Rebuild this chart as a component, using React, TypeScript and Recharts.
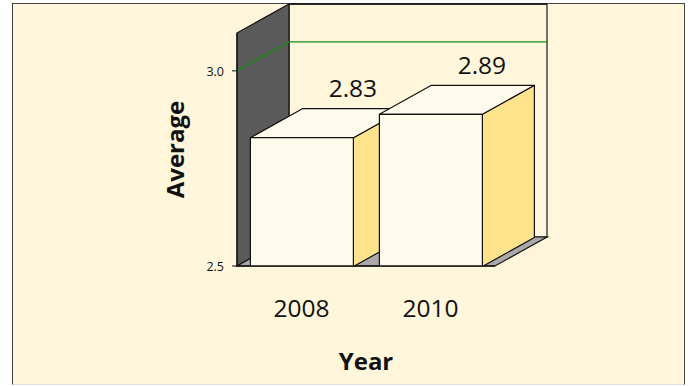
import React from 'react';
import {
  BarChart,
  Bar,
  XAxis,
  YAxis,
  ReferenceArea,
  ReferenceLine,
  LabelList,
} from 'recharts';

const years = ['2008', '2010'];
const averages = [2.83, 2.89];
const yTicks = [2.5, 3.0];
const yDomain = [2.5, 3.097];
const gridValue = 3.0;

const data = years.map((year, i) => ({ year, average: averages[i] }));

const FONT = '"Open Sans", sans-serif';
const PANEL = '#FFF6DC';
const LIGHT = '#FFFBEC';
const SIDE = '#FFE38C';
const WALL = '#5A5A5A';
const FLOOR = '#A9A9A9';
const INK = '#111111';
// 3D depth of the fake perspective
const DX = 52;
const DY = -29;

const pts = (list: number[][]) => list.map((p) => p.join(',')).join(' ');

const Walls = ({ x, y, width, height }: any) => {
  const bottom = y + height;
  const right = x + width;
  return (
    <g>
      <rect x={x + DX} y={y + DY} width={width} height={height} fill={PANEL} stroke="#444" strokeWidth={1.5} />
      <line x1={x + DX} y1={y + DY} x2={right + DX} y2={y + DY} stroke={INK} strokeWidth={1.5} />
      <polygon
        points={pts([[x, y], [x + DX, y + DY], [x + DX, bottom + DY], [x, bottom]])}
        fill={WALL}
        stroke={INK}
        strokeWidth={1.2}
      />
      <polygon
        points={pts([[x, bottom], [x + DX, bottom + DY], [right + DX, bottom + DY], [right, bottom]])}
        fill={FLOOR}
        stroke={INK}
        strokeWidth={1.2}
      />
    </g>
  );
};

const GridLine3D = ({ x1, y1, x2 }: any) => (
  <polyline
    points={pts([[x1, y1], [x1 + DX, y1 + DY], [x2 + DX, y1 + DY]])}
    fill="none"
    stroke="#178A17"
    strokeWidth={1.4}
  />
);

const Box3D = ({ x, y, width, height }: any) => {
  const right = x + width;
  const bottom = y + height;
  return (
    <g stroke={INK} strokeWidth={1.2} strokeLinejoin="round" transform="translate(0.5 0.5)">
      <polygon
        points={pts([[right, y], [right + DX, y + DY], [right + DX, bottom + DY], [right, bottom]])}
        fill={SIDE}
      />
      <polygon
        points={pts([[x, y], [x + DX, y + DY], [right + DX, y + DY], [right, y]])}
        fill={LIGHT}
      />
      <rect x={x} y={y} width={width} height={height} fill={LIGHT} />
    </g>
  );
};

const ValueLabel = ({ x, y, width, value }: any) => (
  <text x={x + width / 2 + DX - 0.5} y={y - 40} textAnchor="middle" fontFamily={FONT} fontSize={24.5} fill="#111">
    {Number(value).toFixed(2)}
  </text>
);

export default function App() {
  return (
    <div style={{ position: 'absolute', left: 0, top: 0, width: 688, height: 386, background: '#fff' }}>
      <div
        style={{
          position: 'absolute',
          left: 12,
          top: 3,
          width: 673,
          height: 382,
          background: PANEL,
          borderLeft: '1.5px solid #444',
          borderTop: '1.5px solid #444',
          borderRight: '1.5px solid #444',
          borderBottom: '1px solid #ddd',
          boxSizing: 'border-box',
        }}
      />
      <div style={{ position: 'absolute', left: 0, top: 0 }}>
        <BarChart
          width={688}
          height={386}
          data={data}
          margin={{ top: 33, right: 193, bottom: 30, left: 177 }}
          barCategoryGap="10%"
        >
          <ReferenceArea y1={yDomain[0]} y2={yDomain[1]} shape={Walls} zIndex={0} />
          <ReferenceLine y={gridValue} shape={GridLine3D} zIndex={1} />
          <XAxis
            dataKey="year"
            height={90}
            axisLine={{ stroke: INK, strokeWidth: 1.5 }}
            tickLine={false}
            tickMargin={28}
            tick={{ fontFamily: FONT, fontSize: 24.5, fill: '#111' }}
            label={{ value: 'Year', position: 'insideBottom', offset: -14, style: { fontFamily: FONT, fontSize: 24, fontWeight: 700, fill: '#111' } }}
          />
          <YAxis
            width={60}
            domain={yDomain}
            ticks={yTicks}
            allowDataOverflow
            tickFormatter={(v: number) => v.toFixed(1)}
            axisLine={{ stroke: INK, strokeWidth: 1.2 }}
            tickLine={{ stroke: INK }}
            tickSize={5}
            tickMargin={8}
            tick={{ fontFamily: FONT, fontSize: 12.5, fill: '#111', dy: 1 }}
            label={{ value: 'Average', angle: -90, position: 'insideLeft', offset: -2, style: { fontFamily: FONT, fontSize: 24, fontWeight: 700, fill: '#111', textAnchor: 'middle' } }}
          />
          <Bar dataKey="average" shape={Box3D} isAnimationActive={false}>
            <LabelList dataKey="average" content={ValueLabel} />
          </Bar>
        </BarChart>
      </div>
    </div>
  );
}
